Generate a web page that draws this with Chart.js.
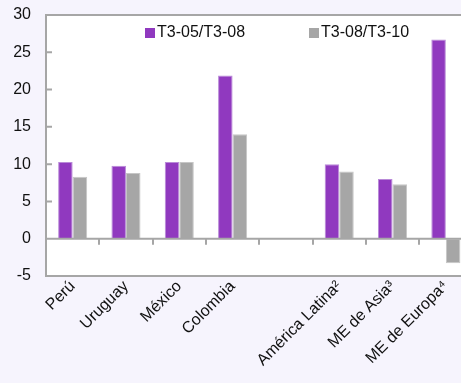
<!DOCTYPE html>
<html>
<head>
<meta charset="utf-8">
<script src="https://cdn.jsdelivr.net/npm/chart.js@4/dist/chart.umd.min.js"></script>
<style>
  html, body { margin: 0; padding: 0; overflow: hidden; background: #f6f4fd; }
  #wrap { width: 480px; height: 383px; }
</style>
</head>
<body>
<div id="wrap"><canvas id="myChart" width="480" height="383"></canvas></div>
<script>
var categories = ['Perú', 'Uruguay', 'México', 'Colombia', '', 'América Latina²', 'ME de Asia³', 'ME de Europa⁴'];
var serie1 = [10.3, 9.8, 10.3, 21.9, null, 10.0, 8.0, 26.7];
var serie2 = [8.3, 8.8, 10.3, 14.0, null, 9.0, 7.3, -3.3];
var seriesNames = ['T3-05/T3-08', 'T3-08/T3-10'];
var yTicks = [-5, 0, 5, 10, 15, 20, 25, 30];

var PURPLE = '#9039bf';
var GRAY = '#a6a6a6';
var FONT = "'Liberation Sans', Arial, sans-serif";

// white plot area, frame, zero line, inward ticks and legend
var decor = {
  id: 'decor',
  beforeDraw: function (chart) {
    var a = chart.chartArea, ctx = chart.ctx;
    ctx.save();
    ctx.fillStyle = '#ffffff';
    ctx.fillRect(a.left, a.top, a.right - a.left, a.bottom - a.top);
    ctx.restore();
  },
  afterDraw: function (chart) {
    var a = chart.chartArea, ctx = chart.ctx;
    var x = chart.scales.x, y = chart.scales.y;
    var y0 = y.getPixelForValue(0);
    ctx.save();
    ctx.strokeStyle = '#a6a6a6';
    ctx.lineWidth = 2;
    ctx.strokeRect(a.left, a.top, a.right - a.left, a.bottom - a.top);
    ctx.beginPath();
    ctx.moveTo(a.left, y0);
    ctx.lineTo(a.right, y0);
    // y ticks pointing inward
    yTicks.forEach(function (v) {
      var py = y.getPixelForValue(v);
      ctx.moveTo(a.left, py);
      ctx.lineTo(a.left + 6, py);
    });
    // x ticks at category boundaries, hanging below zero line
    for (var i = 0; i < categories.length - 1; i++) {
      var px = Math.round((x.getPixelForValue(i) + x.getPixelForValue(i + 1)) / 2);
      ctx.moveTo(px, y0);
      ctx.lineTo(px, y0 + 6);
    }
    ctx.stroke();

    // legend
    var offs = [99, 263];
    ctx.font = '16px ' + FONT;
    ctx.textBaseline = 'middle';
    chart.data.datasets.forEach(function (ds, i) {
      var lx = a.left + offs[i], ly = a.top + 13;
      ctx.fillStyle = ds.backgroundColor;
      ctx.fillRect(lx, ly, 10, 10);
      ctx.fillStyle = '#111';
      ctx.fillText(ds.label, lx + 12, ly + 5);
    });
    ctx.restore();
  }
};

new Chart(document.getElementById('myChart'), {
  type: 'bar',
  data: {
    labels: categories,
    datasets: [
      { label: seriesNames[0], data: serie1, backgroundColor: PURPLE, borderColor: '#b98ad8', borderWidth: 1 },
      { label: seriesNames[1], data: serie2, backgroundColor: GRAY, borderColor: '#c6c6c6', borderWidth: 1 }
    ]
  },
  options: {
    responsive: false,
    animation: false,
    layout: { padding: { left: 0, top: 15, right: 7.5, bottom: 0 } },
    datasets: { bar: { categoryPercentage: 0.545, barPercentage: 1 } },
    plugins: { legend: { display: false }, tooltip: { enabled: false } },
    scales: {
      x: {
        grid: { display: false },
        border: { display: false },
        ticks: {
          autoSkip: false, maxRotation: 45, minRotation: 45, padding: -7,
          color: '#111', font: { family: FONT, size: 16 }
        },
        afterFit: function (s) { s.height = 107; }
      },
      y: {
        min: -5, max: 30,
        grid: { display: true, drawOnChartArea: false, drawTicks: true, tickLength: 15, tickColor: 'rgba(0,0,0,0)' },
        border: { display: false },
        ticks: {
          stepSize: 5, padding: 0,
          color: '#111', font: { family: FONT, size: 16 }
        },
        afterFit: function (s) { s.width = 46; }
      }
    }
  },
  plugins: [decor]
});
</script>
</body>
</html>
